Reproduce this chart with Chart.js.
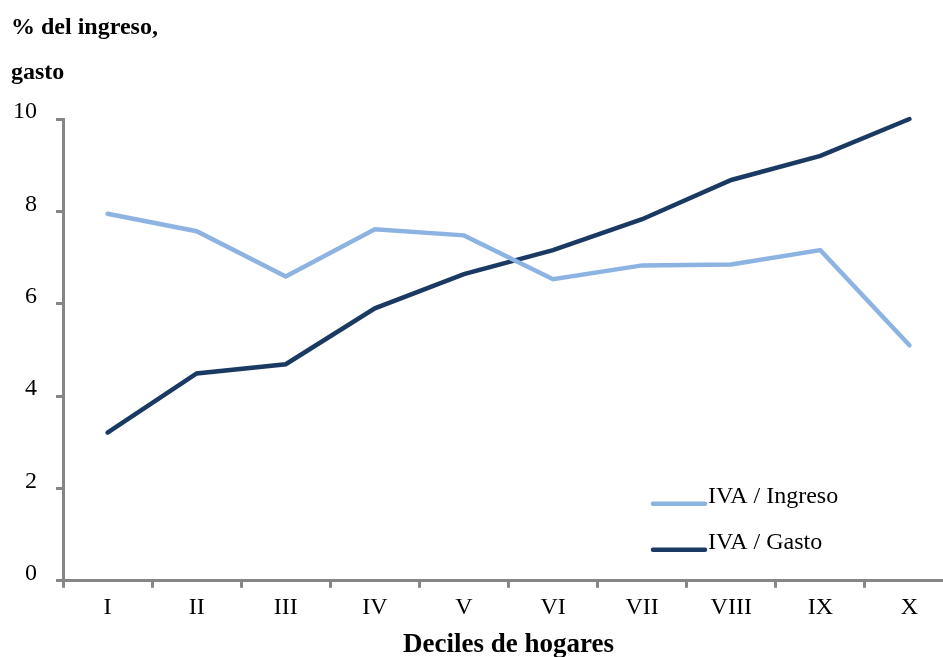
<!DOCTYPE html>
<html>
<head>
<meta charset="utf-8">
<script src="https://cdn.jsdelivr.net/npm/chart.js@4"></script>
<style>
  html, body { margin: 0; padding: 0; background: #fff; overflow: hidden; }
  #wrap { width: 943px; height: 657px; overflow: hidden; }
</style>
</head>
<body>
<div id="wrap"><canvas id="chart" width="960" height="661"></canvas></div>
<script>
// data
const deciles = ["I", "II", "III", "IV", "V", "VI", "VII", "VIII", "IX", "X"];
const ivaIngreso = [7.95, 7.57, 6.59, 7.61, 7.48, 6.53, 6.83, 6.85, 7.16, 5.10];
const ivaGasto = [3.21, 4.49, 4.69, 5.90, 6.64, 7.16, 7.83, 8.68, 9.20, 10.0];
const yTitle = ["% del ingreso,", "gasto"];
const xTitle = "Deciles de hogares";

const serif = "'Liberation Serif', 'DejaVu Serif', serif";
const axisGray = "#868686";

// legend drawn inside the plot, bottom right
const insideLegend = {
  id: "insideLegend",
  afterDraw(chart) {
    const ctx = chart.ctx;
    const area = chart.chartArea;
    const x0 = area.left + 588;
    const y0 = area.bottom - 77;
    ctx.save();
    ctx.font = "24px " + serif;
    ctx.textBaseline = "middle";
    ctx.lineCap = "round";
    chart.data.datasets.forEach((ds, i) => {
      const y = y0 + i * 46;
      ctx.strokeStyle = ds.borderColor;
      ctx.lineWidth = 4.5;
      ctx.beginPath();
      ctx.moveTo(x0 + 2, y);
      ctx.lineTo(x0 + 54, y);
      ctx.stroke();
      ctx.fillStyle = "#000";
      ctx.fillText(ds.label, x0 + 57, y - 7);
    });
    ctx.restore();
  },
};

const ctx = document.getElementById("chart");
new Chart(ctx, {
  type: "line",
  data: {
    labels: deciles,
    datasets: [
      {
        label: "IVA / Ingreso",
        data: ivaIngreso,
        borderColor: "#8db3e2",
        borderWidth: 4.5,
        pointRadius: 0,
        tension: 0,
        borderCapStyle: "round",
      },
      {
        label: "IVA / Gasto",
        data: ivaGasto,
        borderColor: "#1b3a63",
        borderWidth: 4.5,
        pointRadius: 0,
        tension: 0,
        borderCapStyle: "round",
      },
    ],
  },
  options: {
    responsive: false,
    animation: false,
    clip: false,
    layout: {
      padding: { left: 11, right: 6, top: 0, bottom: 0 },
    },
    plugins: {
      legend: { display: false },
      tooltip: { enabled: false },
      title: {
        display: true,
        text: yTitle,
        align: "start",
        color: "#000",
        font: { family: serif, size: 24, weight: "bold", lineHeight: 1.875 },
        padding: { top: 5, bottom: 24 },
      },
    },
    scales: {
      x: {
        offset: true,
        grid: {
          offset: true,
          drawOnChartArea: false,
          drawTicks: true,
          tickLength: 7,
          tickWidth: 3,
          tickColor: axisGray,
        },
        border: { color: axisGray, width: 3 },
        ticks: {
          color: "#000",
          font: { family: serif, size: 24 },
          padding: 6,
          maxRotation: 0,
        },
        title: {
          display: true,
          text: xTitle,
          color: "#000",
          font: { family: serif, size: 27, weight: "bold" },
          padding: { top: 0, bottom: 0 },
        },
      },
      y: {
        min: 0,
        max: 10,
        afterFit: (scale) => {
          scale.width = 52;
        },
        grid: {
          drawOnChartArea: false,
          drawTicks: true,
          tickLength: 7,
          tickWidth: 3,
          tickColor: axisGray,
        },
        border: { color: axisGray, width: 3 },
        ticks: {
          stepSize: 2,
          color: "#000",
          font: { family: serif, size: 24 },
          padding: 19,
          labelOffset: -7,
        },
      },
    },
  },
  plugins: [insideLegend],
});
</script>
</body>
</html>
